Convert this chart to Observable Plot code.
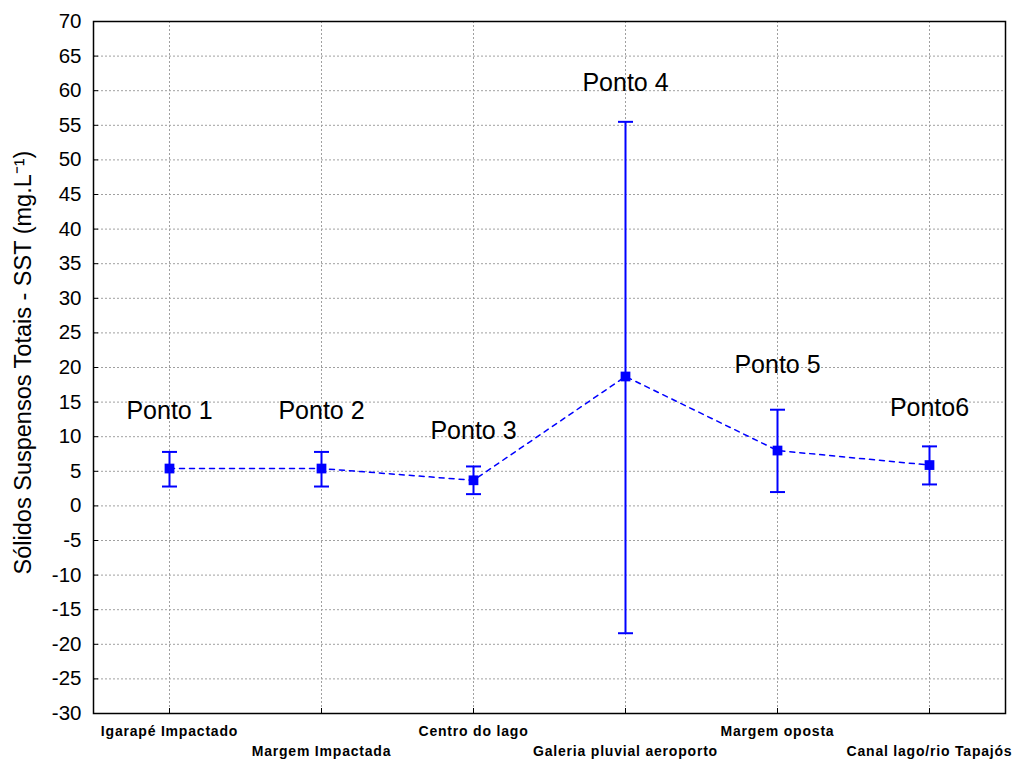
<!DOCTYPE html>
<html>
<head>
<meta charset="utf-8">
<script src="https://cdn.jsdelivr.net/npm/d3@7"></script>
<script src="https://cdn.jsdelivr.net/npm/@observablehq/plot@0.6"></script>
<style>
  html, body { margin: 0; padding: 0; background: #fff; }
  #chart { width: 1019px; height: 761px; }
  svg { font-family: "Liberation Sans", Arial, sans-serif; }
</style>
</head>
<body>
<div id="chart"></div>
<script>
// Data
const categories = ["Igarapé Impactado", "Margem Impactada", "Centro do lago", "Galeria pluvial aeroporto", "Margem oposta", "Canal lago/rio Tapajós"];
const means = [5.4, 5.4, 3.7, 18.7, 8.0, 5.9];
const upper = [7.8, 7.8, 5.7, 55.5, 13.9, 8.6];
const lower = [2.8, 2.8, 1.7, -18.4, 2.0, 3.1];
const pointLabels = ["Ponto 1", "Ponto 2", "Ponto 3", "Ponto 4", "Ponto 5", "Ponto6"];
const labelY = [13.7, 13.7, 10.8, 61.1, 20.3, 14.1];
const yTicks = d3.range(-30, 71, 5);
const yTitle = "Sólidos Suspensos Totais - SST (mg.L⁻¹)";

const data = categories.map((c, i) => ({cat: c, mean: means[i], hi: upper[i], lo: lower[i], label: pointLabels[i], ly: labelY[i], row: i % 2}));
const blue = "#0000ff";

// custom cap symbol (horizontal bar)
const capSymbol = {draw(context, size) { const w = 7.5; context.moveTo(-w, 0); context.lineTo(w, 0); }};

const chart = Plot.plot({
  width: 1019,
  height: 761,
  marginLeft: 93,
  marginRight: 14,
  marginTop: 21,
  marginBottom: 48,
  style: {fontFamily: "'Liberation Sans', Arial, sans-serif", background: "#fff"},
  x: {type: "point", domain: categories, padding: 0.5},
  y: {domain: [-30, 70]},
  marks: [
    Plot.gridY(yTicks, {stroke: "#a0a0a0", strokeOpacity: 1, strokeDasharray: "2,2", strokeWidth: 1}),
    Plot.gridX(categories, {stroke: "#a0a0a0", strokeOpacity: 1, strokeDasharray: "2,2", strokeWidth: 1}),
    Plot.axisY(yTicks, {tickSize: 0, tickPadding: 12, fontSize: 20.5, fill: "#000", label: null, tickFormat: d => String(d)}),
    Plot.axisY(yTicks, {tickSize: -5, tickFormat: () => "", label: null, stroke: "#000"}),
    Plot.axisX({tickSize: -5, tickFormat: () => "", label: null, stroke: "#000"}),
    Plot.text([yTitle], {frameAnchor: "left", rotate: -90, dx: -70, dy: -5, textAnchor: "middle", lineAnchor: "middle", fontSize: 23.5, fill: "#000"}),
    Plot.text(data.filter(d => d.row === 0), {x: "cat", text: "cat", frameAnchor: "bottom", lineAnchor: "middle", dy: 18, fontSize: 14, fontWeight: "bold", fill: "#000"}),
    Plot.text(data.filter(d => d.row === 1), {x: "cat", text: "cat", frameAnchor: "bottom", lineAnchor: "middle", dy: 38, fontSize: 14, fontWeight: "bold", fill: "#000"}),
    Plot.line(data, {x: "cat", y: "mean", stroke: blue, strokeWidth: 1.5, strokeDasharray: "5,5"}),
    Plot.ruleX(data, {x: "cat", y1: "lo", y2: "hi", stroke: blue, strokeWidth: 2}),
    Plot.dot(data, {x: "cat", y: "hi", symbol: capSymbol, stroke: blue, strokeWidth: 2, r: 5}),
    Plot.dot(data, {x: "cat", y: "lo", symbol: capSymbol, stroke: blue, strokeWidth: 2, r: 5}),
    Plot.dot(data, {x: "cat", y: "mean", symbol: "square", r: 5.5, fill: blue, stroke: "none"}),
    Plot.text(data, {x: "cat", y: "ly", text: "label", fontSize: 25, fill: "#000"}),
    Plot.frame({stroke: "#000", strokeWidth: 1.5})
  ]
});
document.getElementById("chart").appendChild(chart);
d3.select(chart).selectAll("g[font-weight='bold'] text").attr("letter-spacing", "0.8px");
</script>
</body>
</html>
